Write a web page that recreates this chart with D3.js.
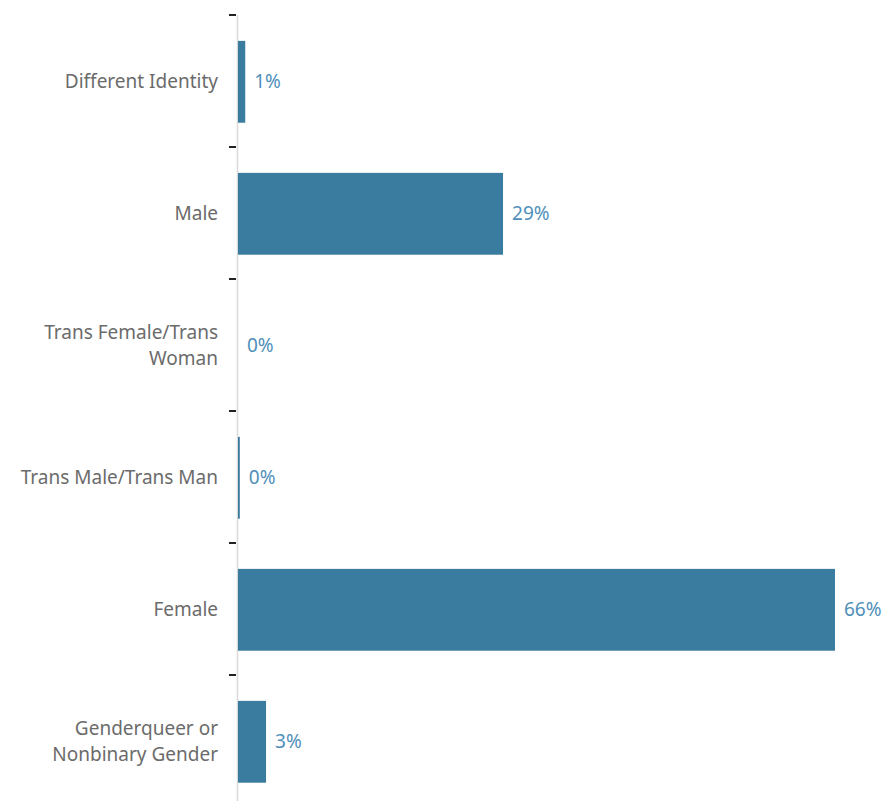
<!DOCTYPE html>
<html>
<head>
<meta charset="utf-8">
<script src="https://cdn.jsdelivr.net/npm/d3@7"></script>
<style>
  html, body { margin: 0; padding: 0; background: #fff; }
  svg { display: block; }
  .cat { font-family: "Noto Sans", Lato, sans-serif; font-size: 19px; fill: #6b6b6b; }
  .val { font-family: "Noto Sans", Lato, sans-serif; font-size: 19px; fill: #4f8fba; }
</style>
</head>
<body>
<svg id="chart" width="886" height="801"></svg>
<script>
// Gender identity of respondents (share of total)
const categories = [
  "Different Identity",
  "Male",
  "Trans Female/Trans Woman",
  "Trans Male/Trans Man",
  "Female",
  "Genderqueer or Nonbinary Gender"
];
const shares = [0.008, 0.293, 0, 0.002, 0.660, 0.031];

const data = categories.map((c, i) => ({ category: c, value: shares[i] }));

const width = 886, height = 801;
const margin = { top: 15, left: 238 };
const plotWidth = 597 / 0.66;   // x range so the largest share lands near the right edge
const plotHeight = 792;

const svg = d3.select("#chart");
const g = svg.append("g").attr("transform", `translate(${margin.left},${margin.top})`);

const x = d3.scaleLinear().domain([0, 1]).range([0, plotWidth]);
const y = d3.scaleBand().domain(categories).range([0, plotHeight]).paddingInner(0.38).paddingOuter(0.19);

// axis spine
g.append("line")
  .attr("x1", -0.5).attr("x2", -0.5)
  .attr("y1", 0).attr("y2", height)
  .attr("stroke", "#d9d9d9").attr("stroke-width", 1.5);

// tick marks between categories
const boundaries = d3.range(categories.length + 1).map(i => i * y.step());
g.selectAll(".tick-mark").data(boundaries).join("line")
  .attr("class", "tick-mark")
  .attr("x1", -9).attr("x2", -2)
  .attr("y1", d => d).attr("y2", d => d)
  .attr("stroke", "#222").attr("stroke-width", 2);

// bars
g.selectAll(".bar").data(data).join("rect")
  .attr("class", "bar")
  .attr("x", 0)
  .attr("y", d => y(d.category) + 0.8)
  .attr("width", d => x(d.value))
  .attr("height", y.bandwidth())
  .attr("fill", "#3a7c9f");

// value labels
const fmt = d3.format(".0%");
g.selectAll(".val").data(data).join("text")
  .attr("class", "val")
  .attr("x", d => x(d.value) + 9)
  .attr("y", d => y(d.category) + y.bandwidth() / 2 + 0.8)
  .attr("dy", "0.35em")
  .text(d => fmt(d.value));

// category labels, wrapped to fit the left margin
const maxLabel = 212;
const lineHeight = 26;
g.selectAll(".cat").data(data).join("text")
  .attr("class", "cat")
  .attr("text-anchor", "end")
  .attr("x", -20)
  .attr("y", d => y(d.category) + y.bandwidth() / 2 + 0.8)
  .each(function(d) {
    const t = d3.select(this);
    const words = d.category.split(" ");
    const lines = [];
    let line = [];
    const probe = t.append("tspan");
    for (const w of words) {
      line.push(w);
      probe.text(line.join(" "));
      if (probe.node().getComputedTextLength() > maxLabel && line.length > 1) {
        line.pop();
        lines.push(line.join(" "));
        line = [w];
      }
    }
    lines.push(line.join(" "));
    probe.remove();
    const offset = -(lines.length - 1) / 2 * lineHeight;
    lines.forEach((l, i) => {
      t.append("tspan")
        .attr("x", -20)
        .attr("dy", i === 0 ? offset + 0.35 * 19 : lineHeight)
        .text(l);
    });
  });
</script>
</body>
</html>
